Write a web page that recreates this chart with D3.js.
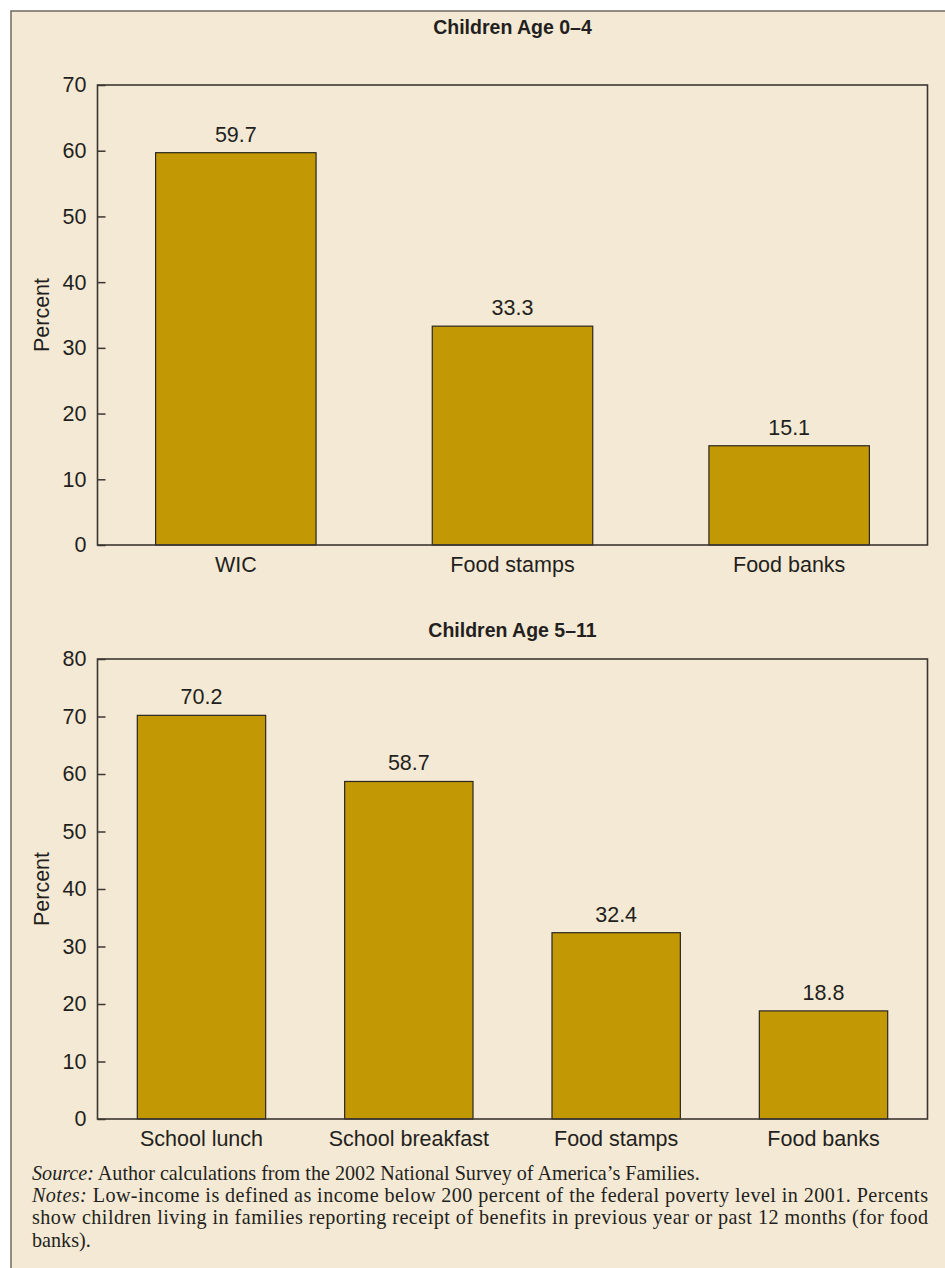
<!DOCTYPE html>
<html><head><meta charset="utf-8">
<script src="https://cdn.jsdelivr.net/npm/d3@7"></script>
<style>
html,body{margin:0;padding:0;background:#fff;}
svg{display:block;}
</style></head>
<body>
<script>
// ---- data ----
const topTitle = "Children Age 0\u20134";
const topCategories = ["WIC", "Food stamps", "Food banks"];
const topValues = [59.7, 33.3, 15.1];
const topTicks = [0, 10, 20, 30, 40, 50, 60, 70];

const bottomTitle = "Children Age 5\u201311";
const bottomCategories = ["School lunch", "School breakfast", "Food stamps", "Food banks"];
const bottomValues = [70.2, 58.7, 32.4, 18.8];
const bottomTicks = [0, 10, 20, 30, 40, 50, 60, 70, 80];

const yLabel = "Percent";
const sourceText = ["Source:", " Author calculations from the 2002 National Survey of America\u2019s Families."];
const notesLines = [
  ["Notes:", " Low-income is defined as income below 200 percent of the federal poverty level in 2001. Percents"],
  ["", "show children living in families reporting receipt of benefits in previous year or past 12 months (for food"],
  ["", "banks)."]
];

// ---- style ----
const W = 945, H = 1268;
const bg = "#F4E9D4";
const barFill = "#C29905";
const ink = "#231f20";
const sans = "'Liberation Sans', Arial, Helvetica, sans-serif";
const serif = "'Liberation Serif', 'Times New Roman', serif";
const fs = 21.5;

const svg = d3.select("body").append("svg").attr("width", W).attr("height", H);
svg.append("rect").attr("x", 0).attr("y", 0).attr("width", W).attr("height", H).attr("fill", "#fff");
svg.append("rect").attr("x", 11).attr("y", 11).attr("width", W + 20).attr("height", H + 20)
  .attr("fill", bg).attr("stroke", "#6f6a64").attr("stroke-width", 1.5);

function drawChart(cfg) {
  const {title, cats, vals, ticks, top, bottom, left, right, pInner, pOuter, titleY} = cfg;
  const g = svg.append("g");
  const x = d3.scaleBand().domain(cats).range([left, right]).paddingInner(pInner).paddingOuter(pOuter);
  const y = d3.scaleLinear().domain([0, d3.max(ticks)]).range([bottom, top]);

  g.append("text").attr("x", (left + right) / 2).attr("y", titleY)
    .attr("text-anchor", "middle").attr("font-family", sans).attr("font-weight", "bold")
    .attr("font-size", 19.5).attr("fill", ink).text(title);

  g.selectAll("rect.bar").data(vals).enter().append("rect").attr("class", "bar")
    .attr("x", (d, i) => x(cats[i])).attr("width", x.bandwidth())
    .attr("y", d => y(d)).attr("height", d => y(0) - y(d))
    .attr("fill", barFill).attr("stroke", "#2b2620").attr("stroke-width", 1.2);

  g.selectAll("text.val").data(vals).enter().append("text").attr("class", "val")
    .attr("x", (d, i) => x(cats[i]) + x.bandwidth() / 2).attr("y", d => y(d) - 11)
    .attr("text-anchor", "middle").attr("font-family", sans).attr("font-size", fs)
    .attr("fill", ink).text(d => d.toFixed(1));

  g.append("rect").attr("x", left).attr("y", top).attr("width", right - left).attr("height", bottom - top)
    .attr("fill", "none").attr("stroke", "#3b3631").attr("stroke-width", 1.6);

  const ya = g.append("g").attr("transform", `translate(${left},0)`)
    .call(d3.axisLeft(y).tickValues(ticks).tickSize(-8).tickPadding(11).tickFormat(d3.format("d")));
  ya.select(".domain").remove();
  ya.selectAll("line").attr("stroke", "#3b3631").attr("stroke-width", 1.5);
  ya.selectAll("text").attr("font-family", sans).attr("font-size", fs).attr("fill", ink);

  const xa = g.append("g").attr("transform", `translate(0,${bottom})`)
    .call(d3.axisBottom(x).tickSize(0).tickPadding(12));
  xa.select(".domain").remove();
  xa.selectAll("text").attr("font-family", sans).attr("font-size", fs).attr("fill", ink);

  g.append("text").attr("transform", `translate(49,${(top + bottom) / 2}) rotate(-90)`)
    .attr("text-anchor", "middle").attr("font-family", sans).attr("font-size", fs)
    .attr("fill", ink).text(yLabel);
}

drawChart({title: topTitle, cats: topCategories, vals: topValues, ticks: topTicks,
  top: 85, bottom: 545, left: 97.5, right: 927.5, pInner: 0.42, pOuter: 0.21, titleY: 34});
drawChart({title: bottomTitle, cats: bottomCategories, vals: bottomValues, ticks: bottomTicks,
  top: 659, bottom: 1119, left: 97.5, right: 927.5, pInner: 0.381, pOuter: 0.192, titleY: 637});

// notes
const noteG = svg.append("g").attr("font-family", serif).attr("font-size", 19).attr("fill", ink);
const lines = [sourceText].concat(notesLines);
const baselines = [1180, 1202, 1224.3, 1246.6];
const texts = lines.map((ln, i) => {
  const t = noteG.append("text").attr("x", 32).attr("y", baselines[i]);
  if (ln[0]) t.append("tspan").attr("font-style", "italic").text(ln[0]);
  t.append("tspan").text(ln[1]);
  return t;
});
// fit font size so the source line spans its measured width in the reference
const srcLen = texts[0].node().getComputedTextLength();
const noteFs = 19 * 668 / srcLen;
noteG.attr("font-size", noteFs);
texts.forEach((t, i) => {
  if (i === 1 || i === 2) t.attr("textLength", 896).attr("lengthAdjust", "spacing");
});
</script>
</body></html>
